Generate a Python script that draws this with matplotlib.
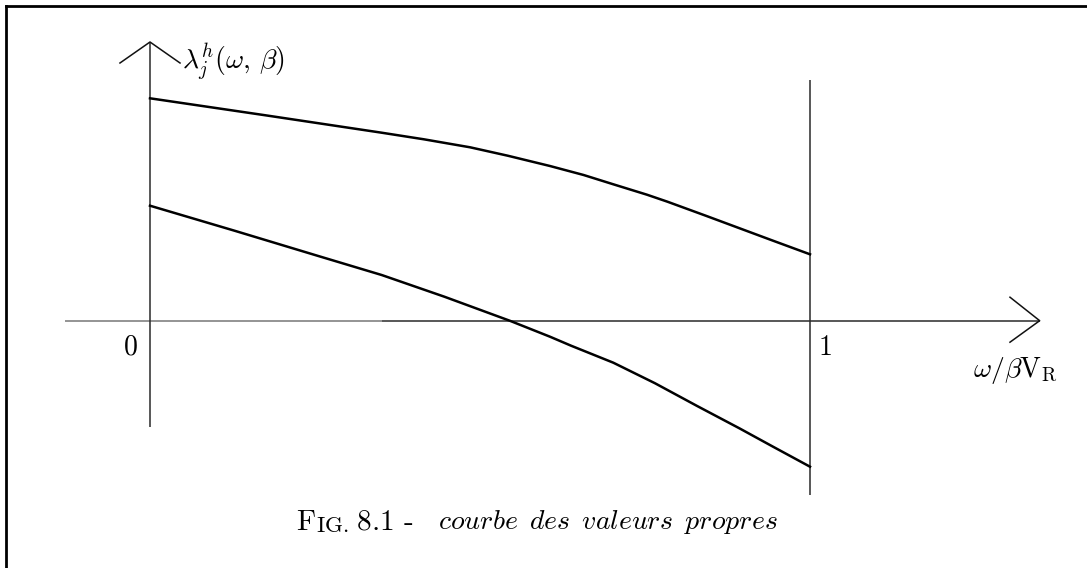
import matplotlib
matplotlib.use("Agg")
import matplotlib.pyplot as plt

plt.rcParams['mathtext.fontset'] = 'cm'
plt.rcParams['font.family'] = 'cmr10'
plt.rcParams['axes.unicode_minus'] = False

# Data (x = omega / beta V_R, y = eigenvalue, arbitrary units)
upper_x = [0.0, 0.175, 0.351, 0.415, 0.485, 0.542, 0.606, 0.657, 0.702,
           0.753, 0.784, 0.842, 0.893, 0.944, 1.0]
upper_y = [2.224, 2.054, 1.880, 1.814, 1.734, 1.650, 1.547, 1.457, 1.364,
           1.260, 1.190, 1.050, 0.925, 0.800, 0.664]
lower_x = [0.0, 0.128, 0.255, 0.351, 0.446, 0.545, 0.606, 0.638, 0.702,
           0.765, 0.829, 0.893, 0.944, 1.0]
lower_y = [1.150, 0.900, 0.647, 0.457, 0.240, 0.0, -0.160, -0.250, -0.420,
           -0.625, -0.853, -1.076, -1.260, -1.460]
tick_labels = ["0", "1"]
x_label = r"$\omega/\beta\mathrm{V}_{\mathrm{R}}$"
y_label = r"$\lambda^h_j(\omega,\,\beta)$"
caption_words = ["courbe", "des", "valeurs", "propres"]

W, H = 1087, 568
fig = plt.figure(figsize=(W / 100, H / 100), dpi=100)
ax = fig.add_axes([0, 0, 1, 1])
ax.set_xlim(-150 / 660, (W - 150) / 660)
ax.set_ylim((320.7 - H) / 100, 320.7 / 100)
ax.axis('off')

axis_c = '#2a2a2a'
lw_axis = 1.1
# horizontal axis (left part lighter as in reference)
ax.plot([-0.129, 0.351], [0, 0], color='#777777', lw=lw_axis, solid_capstyle='butt')
ax.plot([0.351, 1.348], [0, 0], color=axis_c, lw=lw_axis, solid_capstyle='butt')
ax.plot([1.303, 1.348, 1.303], [0.235, 0, -0.215], color='#111111', lw=lw_axis)
# vertical axis
ax.plot([0, 0], [-1.06, 2.787], color=axis_c, lw=lw_axis, solid_capstyle='butt')
ax.plot([-0.0455, 0, 0.0455], [2.577, 2.787, 2.577], color='#111111', lw=lw_axis)
# x = 1 line
ax.plot([1, 1], [-1.743, 2.407], color=axis_c, lw=lw_axis, solid_capstyle='butt')

# curves
ax.plot(upper_x, upper_y, color='black', lw=1.8, solid_joinstyle='round')
ax.plot(lower_x, lower_y, color='black', lw=1.8, solid_joinstyle='round')

# labels
ax.text(-0.03, -0.27, "$" + tick_labels[0] + "$", fontsize=20, ha='center', va='center')
ax.text(1.023, -0.27, "$" + tick_labels[1] + "$", fontsize=20, ha='center', va='center')
ax.text(1.312, -0.50, x_label, fontsize=20, ha='center', va='center')
ax.text(0.048, 2.58, y_label, fontsize=20, ha='left', va='center')

# caption with small caps
t1 = ax.text(0.2212, -2.09, r"$\mathrm{F}$", fontsize=21, ha='left', va='baseline')
t2 = ax.annotate(r"$\mathrm{IG.}$", xy=(1, 0), xycoords=t1, fontsize=16.5,
                 ha='left', va='bottom', annotation_clip=False)
t3 = ax.annotate(r"$\ \mathrm{8.1}$ -", xy=(1, 0), xycoords=t2, fontsize=21,
                 ha='left', va='bottom', annotation_clip=False)
ax.annotate(r"$\mathit{\ \ \ " + r"\ \,".join(caption_words) + "}$", xy=(1, 0), xycoords=t3,
            fontsize=20, ha='left', va='bottom', annotation_clip=False)

# frame (top and left edges)
ax.plot([5.5 / W, 5.5 / W], [0, 1 - 5.5 / H], color='black', lw=2.0,
        transform=ax.transAxes, solid_capstyle='projecting')
ax.plot([5.5 / W, 1], [1 - 5.5 / H, 1 - 5.5 / H], color='black', lw=2.0,
        transform=ax.transAxes, solid_capstyle='projecting')

fig.savefig("out.png", dpi=100)
